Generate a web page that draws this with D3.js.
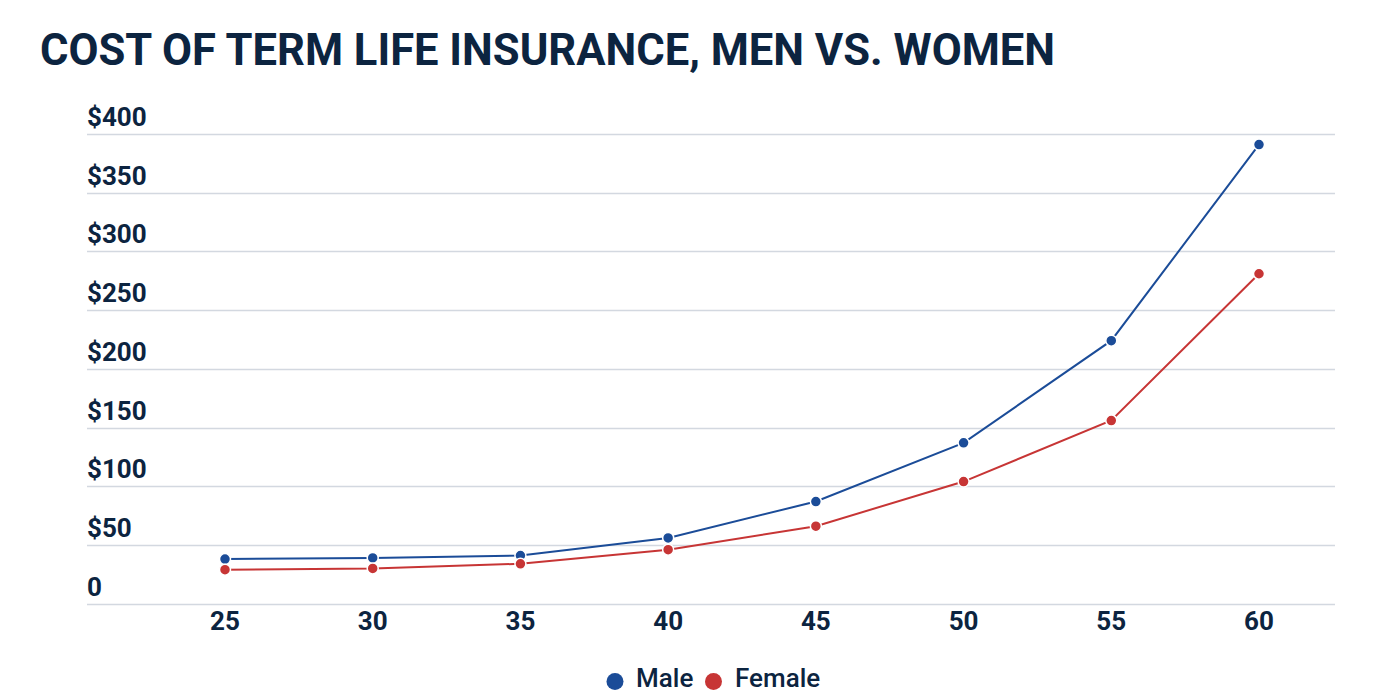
<!DOCTYPE html>
<html>
<head>
<meta charset="utf-8">
<script src="https://cdn.jsdelivr.net/npm/d3@7"></script>
<style>
  html, body { margin: 0; padding: 0; background: #ffffff; }
  svg { display: block; }
</style>
</head>
<body>
<svg id="chart" width="1390" height="698"></svg>
<script>
const ages = ["25", "30", "35", "40", "45", "50", "55", "60"];
const maleValues = [38, 39, 41, 56, 87, 137, 224, 391];
const femaleValues = [29, 30, 34, 46, 66, 104, 156, 281];
const yTicks = [0, 50, 100, 150, 200, 250, 300, 350, 400];
const seriesNames = ["Male", "Female"];
const seriesColors = ["#1b4c98", "#c73535"];
const titleText = "COST OF TERM LIFE INSURANCE, MEN VS. WOMEN";

const svg = d3.select("#chart");
const textColor = "#0c2440";
const font = "Roboto, 'DejaVu Sans', sans-serif";

const gridLeft = 87, gridRight = 1335;
const x = d3.scalePoint().domain(ages).range([225, 1259]);
const y = d3.scaleLinear().domain([0, 400]).range([603.7, 134]);

// Title
svg.append("text")
  .attr("x", 40).attr("y", 65)
  .attr("font-family", font).attr("font-weight", 700)
  .attr("font-size", 45)
  .attr("fill", textColor)
  .attr("textLength", 1015).attr("lengthAdjust", "spacingAndGlyphs")
  .text(titleText);

// Gridlines
svg.append("g").selectAll("line").data(yTicks).join("line")
  .attr("x1", gridLeft).attr("x2", gridRight)
  .attr("y1", d => Math.round(y(d)) + 0.5).attr("y2", d => Math.round(y(d)) + 0.5)
  .attr("stroke", "#d3d8e0").attr("stroke-width", 1.3);

// Y labels
svg.append("g").selectAll("text").data(yTicks).join("text")
  .attr("x", gridLeft).attr("y", d => y(d) - 8)
  .attr("font-family", font).attr("font-weight", 700).attr("font-size", 26)
  .attr("fill", textColor)
  .text(d => d === 0 ? "0" : "$" + d);

// X labels
svg.append("g").selectAll("text").data(ages).join("text")
  .attr("x", d => x(d)).attr("y", 629.5)
  .attr("text-anchor", "middle")
  .attr("font-family", font).attr("font-weight", 700).attr("font-size", 26)
  .attr("fill", textColor)
  .text(d => d);

// Series
const series = [maleValues, femaleValues];
const line = d3.line().x((d, i) => x(ages[i])).y(d => y(d));
series.forEach((vals, si) => {
  const g = svg.append("g");
  g.append("path").datum(vals)
    .attr("d", line).attr("fill", "none")
    .attr("stroke", seriesColors[si]).attr("stroke-width", 2);
  g.selectAll("circle").data(vals).join("circle")
    .attr("cx", (d, i) => x(ages[i])).attr("cy", d => y(d))
    .attr("r", 5.5)
    .attr("fill", seriesColors[si])
    .attr("stroke", "#ffffff").attr("stroke-width", 1.5);
});

// Legend
const legendItems = [
  { cx: 615, tx: 636, name: seriesNames[0], color: seriesColors[0] },
  { cx: 713.5, tx: 735, name: seriesNames[1], color: seriesColors[1] }
];
const lg = svg.append("g");
legendItems.forEach(it => {
  lg.append("circle").attr("cx", it.cx).attr("cy", 681.5).attr("r", 8.5).attr("fill", it.color);
  lg.append("text").attr("x", it.tx).attr("y", 687)
    .attr("font-family", font).attr("font-weight", 500).attr("font-size", 26)
    .attr("fill", textColor).text(it.name);
});
</script>
</body>
</html>
